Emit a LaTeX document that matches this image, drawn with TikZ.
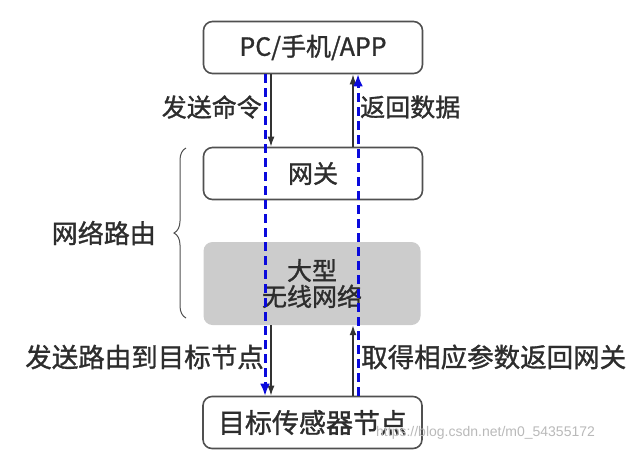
\documentclass[tikz,border=0pt]{standalone}
\usepackage{fontspec}
\setmainfont{Noto Sans CJK SC}[AutoFakeBold=1.2]
\newfontfamily\markfont{Liberation Sans}
\usetikzlibrary{arrows.meta,decorations.pathreplacing}
\definecolor{linegray}{RGB}{80,80,80}
\definecolor{textgray}{RGB}{45,45,45}
\definecolor{wsngray}{RGB}{204,204,204}
\definecolor{pathblue}{RGB}{10,10,220}
\tikzset{
  boxnode/.style={draw=linegray, line width=1.6pt, rounded corners=9pt,
    minimum width=219pt, minimum height=52pt, text=textgray},
  graybox/.style={fill=wsngray, rounded corners=9pt,
    minimum width=217pt, minimum height=83pt, text=textgray, align=center},
  lbl/.style={text=textgray, inner sep=0pt},
  flow/.style={black!80, line width=1.5pt, -{Latex[length=10pt,width=7pt]}},
  route/.style={pathblue, line width=3pt, dash pattern=on 9pt off 5pt,
    -{Latex[length=12pt,width=10pt]}}
}
\begin{document}
\begin{tikzpicture}[x=1pt, y=-1pt,
    every node/.style={font=\fontsize{25}{30}\selectfont\bfseries}]
  \useasboundingbox (0,0) rectangle (631,451);

  % boxes, top to bottom
  \node[boxnode] (pc)  at (313,47.5)  {PC/手机/APP};
  \node[boxnode] (gw)  at (313,173.5) {网关};
  \node[graybox] (wsn) at (312,283.5) {大型\\[-4pt]无线网络};
  \node[boxnode, font=\fontsize{27}{30}\selectfont\bfseries] (tgt)
    at (312.5,422.5) {目标传感器节点};

  % black arrows (down on the left, up on the right)
  \draw[flow] ([xshift=-42pt]pc.south) -- ([xshift=-42pt]gw.north);
  \draw[flow] ([xshift=40pt]gw.north) -- ([xshift=40pt]pc.south);
  \draw[flow] ([xshift=-41pt]wsn.south) -- ([xshift=-41.5pt]tgt.north);
  \draw[flow] ([xshift=40.5pt]tgt.north) -- ([xshift=41pt]wsn.south);

  % blue dashed routes
  \draw[route] ([xshift=-48pt]pc.south) -- ([xshift=-47.5pt]tgt.north);
  \draw[route] ([xshift=45.5pt]tgt.north) -- ([xshift=45pt]pc.south);

  % labels beside the arrows
  \node[lbl, anchor=east] (cmd)  at (262,107) {发送命令};
  \node[lbl, anchor=west] (back) at (360,107) {返回数据};
  \node[lbl, anchor=east, font=\fontsize{26.5}{30}\selectfont\bfseries]
    (send) at (264,357) {发送路由到目标节点};
  \node[lbl, anchor=west, font=\fontsize{26.5}{30}\selectfont\bfseries]
    (get)  at (361,357) {取得相应参数返回网关};

  % brace for the routing part
  \coordinate (bb) at (186,318);
  \coordinate (bt) at (186,148);
  \draw[linegray, line width=1pt, decoration={brace, amplitude=12pt},
    decorate] (bb) -- (bt);
  \node[lbl, anchor=east, font=\fontsize{26}{30}\selectfont\bfseries]
    (net) at (156,233) {网络路由};

  % watermark
  \node[anchor=west, inner sep=0pt, text=gray!55,
    font=\markfont\fontsize{14}{16}\selectfont] (mark) at (376,433)
    {https://blog.csdn.net/m0\_54355172};
\end{tikzpicture}
\end{document}
